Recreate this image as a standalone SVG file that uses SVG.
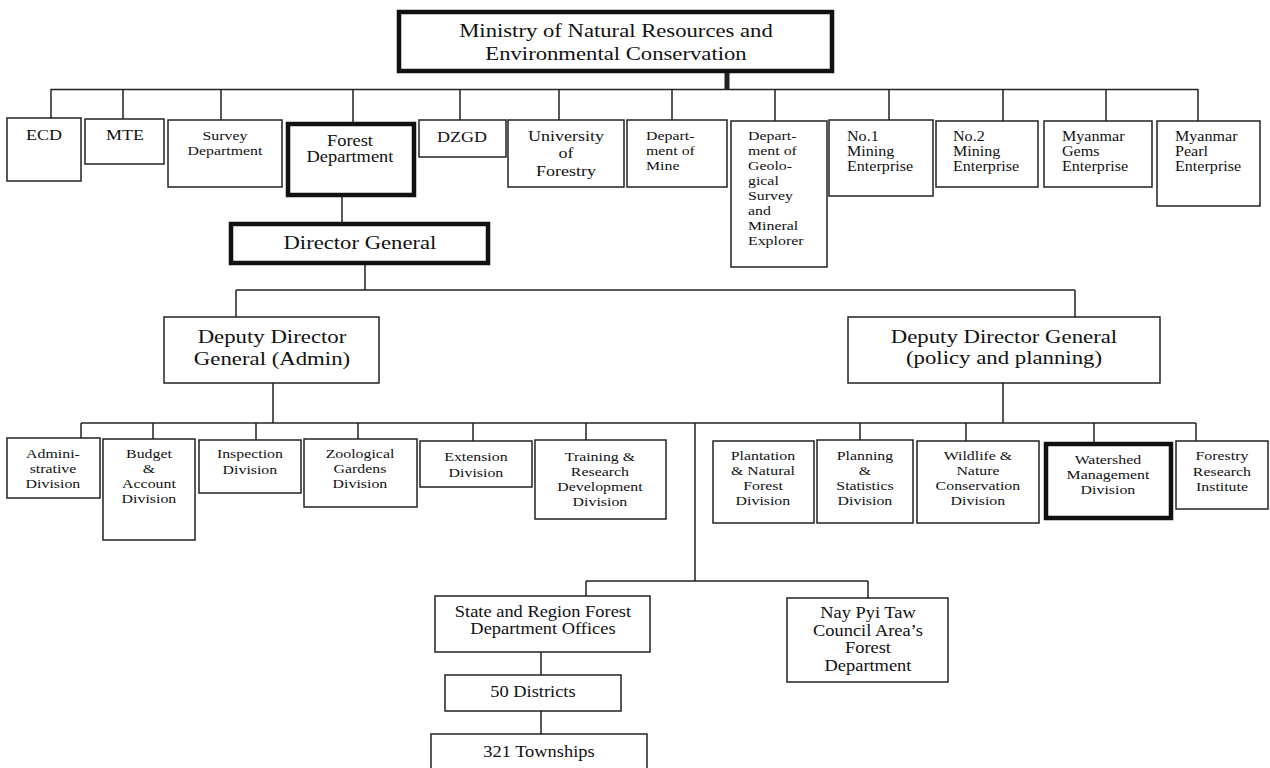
<svg xmlns="http://www.w3.org/2000/svg" width="1270" height="768" viewBox="0 0 1270 768">
<style>
text{font-family:"Liberation Serif","Times New Roman",serif;fill:#111;transform-box:fill-box;transform-origin:center}
text.l{transform-origin:left center}
.b{fill:#fff;stroke:#222;stroke-width:1.5}
.t{fill:#fff;stroke:#111;stroke-width:4.5}
.c line{stroke:#222;stroke-width:1.5;fill:none}
.s13{font-size:13px;transform:scaleX(1.22)}
.s14{font-size:14px;transform:scaleX(1.15)}
.s15{font-size:15px;transform:scaleX(1.2)}
.s16{font-size:16px;transform:scaleX(1.15)}
.s18{font-size:18px;transform:scaleX(1.26)}
.s19{font-size:19px;transform:scaleX(1.2)}
.m{text-anchor:middle}
</style>
<rect width="1270" height="768" fill="#fff"/>
<g class="c" id="connectors">
<line x1="51" y1="89.5" x2="1198" y2="89.5"/>
<line x1="727" y1="73" x2="727" y2="90" style="stroke-width:5"/>
<line x1="51" y1="89" x2="51" y2="118"/>
<line x1="123" y1="89" x2="123" y2="119"/>
<line x1="221" y1="89" x2="221" y2="120"/>
<line x1="353" y1="89" x2="353" y2="122"/>
<line x1="460" y1="89" x2="460" y2="120"/>
<line x1="559" y1="89" x2="559" y2="120"/>
<line x1="672" y1="89" x2="672" y2="120"/>
<line x1="775" y1="89" x2="775" y2="121"/>
<line x1="889" y1="89" x2="889" y2="120"/>
<line x1="1003" y1="89" x2="1003" y2="121"/>
<line x1="1106" y1="89" x2="1106" y2="121"/>
<line x1="1198" y1="89" x2="1198" y2="121"/>
<line x1="342" y1="197" x2="342" y2="222"/>
<line x1="365" y1="265" x2="365" y2="290"/>
<line x1="236" y1="290" x2="1075" y2="290"/>
<line x1="236" y1="290" x2="236" y2="317"/>
<line x1="1075" y1="290" x2="1075" y2="317"/>
<line x1="273" y1="383" x2="273" y2="423"/>
<line x1="1003" y1="383" x2="1003" y2="423"/>
<line x1="81" y1="423" x2="1196" y2="423"/>
<line x1="81" y1="423" x2="81" y2="438"/>
<line x1="153" y1="423" x2="153" y2="439"/>
<line x1="256" y1="423" x2="256" y2="440"/>
<line x1="358" y1="423" x2="358" y2="439"/>
<line x1="473" y1="423" x2="473" y2="441"/>
<line x1="586" y1="423" x2="586" y2="440"/>
<line x1="860" y1="423" x2="860" y2="440"/>
<line x1="966" y1="423" x2="966" y2="441"/>
<line x1="1094" y1="423" x2="1094" y2="442"/>
<line x1="1196" y1="423" x2="1196" y2="441"/>
<line x1="695" y1="423" x2="695" y2="581"/>
<line x1="586" y1="581" x2="868" y2="581"/>
<line x1="586" y1="581" x2="586" y2="596"/>
<line x1="868" y1="581" x2="868" y2="598"/>
<line x1="541" y1="652" x2="541" y2="675"/>
<line x1="541" y1="711" x2="541" y2="734"/>
</g>
<g id="ministry"><rect class="t" x="399" y="12" width="433" height="59"/>
<text class="s18 m" x="616" y="37">Ministry of Natural Resources and</text>
<text class="s18 m" x="616" y="60">Environmental Conservation</text></g>
<g id="ecd"><rect class="b" x="7" y="118" width="74" height="63"/><text class="s15 m" x="44" y="140">ECD</text></g>
<g id="mte"><rect class="b" x="85" y="119" width="79" height="45"/><text class="s15 m" x="125" y="140">MTE</text></g>
<g id="survey"><rect class="b" x="168" y="120" width="114" height="67"/><text class="s13 m" x="225" y="140">Survey</text><text class="s13 m" x="225" y="155">Department</text></g>
<g id="forest"><rect class="t" x="288" y="124" width="126" height="71"/><text class="s16 m" x="350" y="146">Forest</text><text class="s16 m" x="350" y="162">Department</text></g>
<g id="dzgd"><rect class="b" x="419" y="120" width="87" height="37"/><text class="s15 m" x="462" y="142">DZGD</text></g>
<g id="university"><rect class="b" x="508" y="120" width="116" height="67"/><text class="s15 m" x="566" y="141">University</text><text class="s15 m" x="566" y="158">of</text><text class="s15 m" x="566" y="176">Forestry</text></g>
<g id="mine"><rect class="b" x="627" y="120" width="100" height="67"/><text class="s13 l" x="646" y="140">Depart-</text><text class="s13 l" x="646" y="155">ment of</text><text class="s13 l" x="646" y="170">Mine</text></g>
<g id="geological"><rect class="b" x="731" y="121" width="96" height="146"/>
<text class="s13 l" x="748" y="140">Depart-</text><text class="s13 l" x="748" y="155">ment of</text><text class="s13 l" x="748" y="170">Geolo-</text><text class="s13 l" x="748" y="185">gical</text><text class="s13 l" x="748" y="200">Survey</text><text class="s13 l" x="748" y="215">and</text><text class="s13 l" x="748" y="230">Mineral</text><text class="s13 l" x="748" y="245">Explorer</text></g>
<g id="no1"><rect class="b" x="829" y="120" width="104" height="76"/><text class="s14 l" x="847" y="141">No.1</text><text class="s14 l" x="847" y="156">Mining</text><text class="s14 l" x="847" y="171">Enterprise</text></g>
<g id="no2"><rect class="b" x="936" y="121" width="102" height="66"/><text class="s14 l" x="953" y="141">No.2</text><text class="s14 l" x="953" y="156">Mining</text><text class="s14 l" x="953" y="171">Enterprise</text></g>
<g id="gems"><rect class="b" x="1044" y="121" width="108" height="66"/><text class="s14 l" x="1062" y="141">Myanmar</text><text class="s14 l" x="1062" y="156">Gems</text><text class="s14 l" x="1062" y="171">Enterprise</text></g>
<g id="pearl"><rect class="b" x="1157" y="121" width="103" height="85"/><text class="s14 l" x="1175" y="141">Myanmar</text><text class="s14 l" x="1175" y="156">Pearl</text><text class="s14 l" x="1175" y="171">Enterprise</text></g>
<g id="director-general"><rect class="t" x="231" y="224" width="257" height="39"/><text class="s18 m" x="360" y="249">Director General</text></g>
<g id="ddg-admin"><rect class="b" x="164" y="317" width="215" height="66"/><text class="s19 m" x="272" y="343">Deputy Director</text><text class="s19 m" x="272" y="365">General (Admin)</text></g>
<g id="ddg-policy"><rect class="b" x="848" y="317" width="312" height="66"/><text class="s19 m" x="1004" y="343">Deputy Director General</text><text class="s19 m" x="1004" y="364">(policy and planning)</text></g>
<g id="administrative"><rect class="b" x="7" y="438" width="93" height="60"/><text class="s13 m" x="53" y="458">Admini-</text><text class="s13 m" x="53" y="473">strative</text><text class="s13 m" x="53" y="488">Division</text></g>
<g id="budget"><rect class="b" x="103" y="439" width="92" height="101"/><text class="s13 m" x="149" y="458">Budget</text><text class="s13 m" x="149" y="473">&amp;</text><text class="s13 m" x="149" y="488">Account</text><text class="s13 m" x="149" y="503">Division</text></g>
<g id="inspection"><rect class="b" x="199" y="440" width="102" height="53"/><text class="s13 m" x="250" y="458">Inspection</text><text class="s13 m" x="250" y="474">Division</text></g>
<g id="zoological"><rect class="b" x="304" y="439" width="113" height="68"/><text class="s13 m" x="360" y="458">Zoological</text><text class="s13 m" x="360" y="473">Gardens</text><text class="s13 m" x="360" y="488">Division</text></g>
<g id="extension"><rect class="b" x="420" y="441" width="112" height="46"/><text class="s13 m" x="476" y="461">Extension</text><text class="s13 m" x="476" y="477">Division</text></g>
<g id="training"><rect class="b" x="535" y="440" width="131" height="79"/><text class="s13 m" x="600" y="461">Training &amp;</text><text class="s13 m" x="600" y="476">Research</text><text class="s13 m" x="600" y="491">Development</text><text class="s13 m" x="600" y="506">Division</text></g>
<g id="plantation"><rect class="b" x="713" y="441" width="101" height="82"/><text class="s13 m" x="763" y="460">Plantation</text><text class="s13 m" x="763" y="475">&amp; Natural</text><text class="s13 m" x="763" y="490">Forest</text><text class="s13 m" x="763" y="505">Division</text></g>
<g id="planning"><rect class="b" x="817" y="440" width="96" height="83"/><text class="s13 m" x="865" y="460">Planning</text><text class="s13 m" x="865" y="475">&amp;</text><text class="s13 m" x="865" y="490">Statistics</text><text class="s13 m" x="865" y="505">Division</text></g>
<g id="wildlife"><rect class="b" x="917" y="441" width="122" height="82"/><text class="s13 m" x="978" y="460">Wildlife &amp;</text><text class="s13 m" x="978" y="475">Nature</text><text class="s13 m" x="978" y="490">Conservation</text><text class="s13 m" x="978" y="505">Division</text></g>
<g id="watershed"><rect class="t" x="1046" y="444" width="125" height="74"/><text class="s13 m" x="1108" y="464">Watershed</text><text class="s13 m" x="1108" y="479">Management</text><text class="s13 m" x="1108" y="494">Division</text></g>
<g id="forestry-research"><rect class="b" x="1176" y="441" width="92" height="68"/><text class="s13 m" x="1222" y="460">Forestry</text><text class="s13 m" x="1222" y="476">Research</text><text class="s13 m" x="1222" y="491">Institute</text></g>
<g id="state-region"><rect class="b" x="435" y="596" width="215" height="56"/><text class="s16 m" x="543" y="617">State and Region Forest</text><text class="s16 m" x="543" y="634">Department Offices</text></g>
<g id="districts"><rect class="b" x="445" y="675" width="176" height="36"/><text class="s16 m" x="533" y="697">50 Districts</text></g>
<g id="townships"><rect class="b" x="431" y="734" width="216" height="45"/><text class="s16 m" x="539" y="757">321 Townships</text></g>
<g id="nay-pyi-taw"><rect class="b" x="787" y="598" width="161" height="84"/><text class="s16 m" x="868" y="618">Nay Pyi Taw</text><text class="s16 m" x="868" y="636">Council Area’s</text><text class="s16 m" x="868" y="653">Forest</text><text class="s16 m" x="868" y="671">Department</text></g>
</svg>
